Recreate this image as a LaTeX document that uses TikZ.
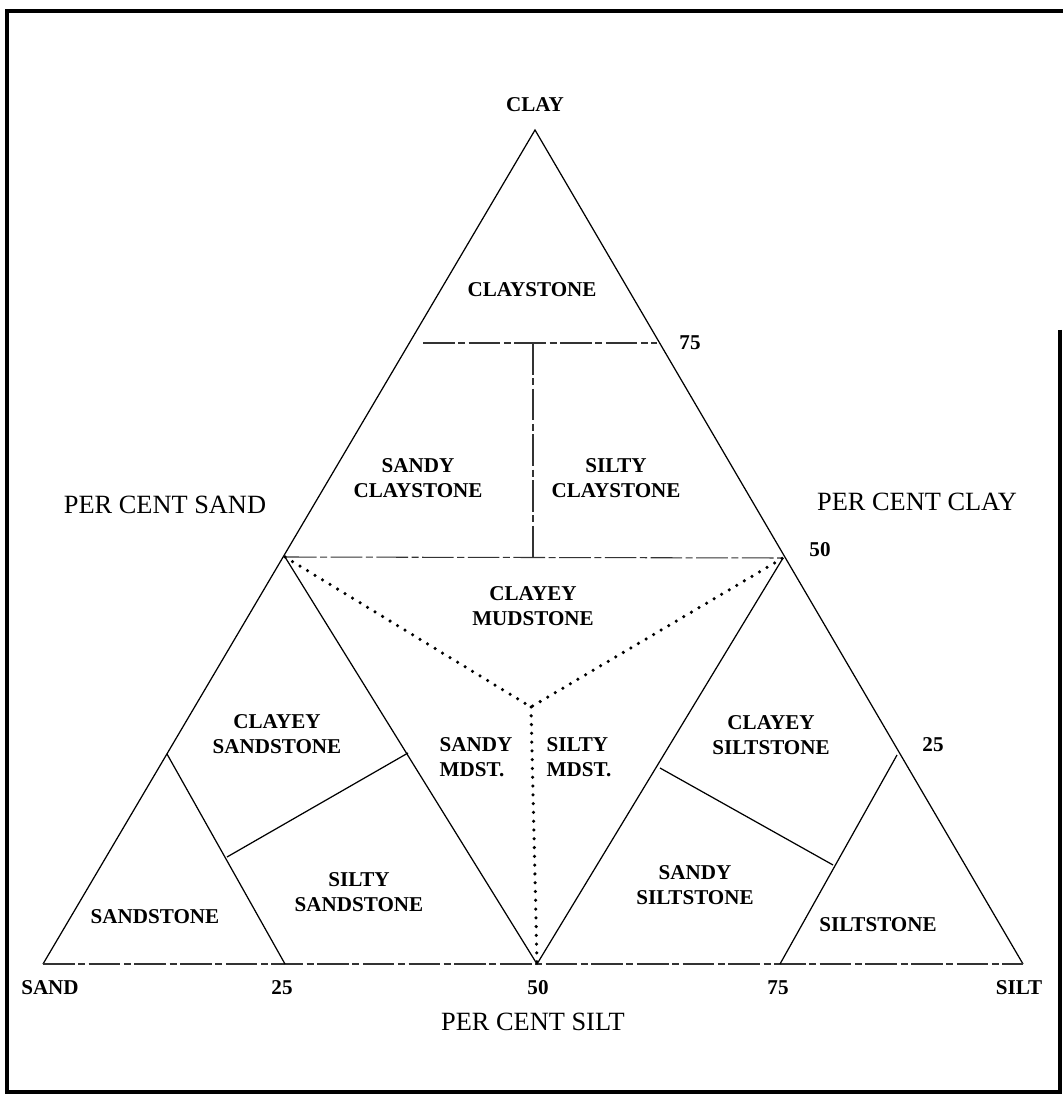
\documentclass[tikz,border=0pt]{standalone}
\usepackage{fontspec}
\setmainfont{Liberation Serif}
\usepackage{tikz}
\usetikzlibrary{calc}

\begin{document}
\begin{tikzpicture}[
    x=0.1mm, y=-0.1mm,
    field/.style={align=center, inner sep=0pt, font=\fontsize{6}{7.1}\selectfont\bfseries},
    corner/.style={inner sep=0pt, font=\fontsize{6}{7.1}\selectfont\bfseries},
    axislabel/.style={inner sep=0pt, font=\fontsize{7.5}{9}\selectfont},
    edge/.style={line width=0.35pt},
    split/.style={line width=0.3pt, draw=black!80, dash pattern=on 9pt off 1pt on 2pt off 1pt},
    mud/.style={line width=1pt, line cap=round, dash pattern=on 0pt off 2.5pt},
    frame/.style={line width=0.9pt}
  ]
    \useasboundingbox (0,0) rectangle (1063,1094);
    \draw[frame] (1060,330) -- (1060,1092) -- (7,1092) -- (7,11) -- (1063,11);
    % corners of the triangle and the class boundaries
    \coordinate (sand) at (43,964);
    \coordinate (silt) at (1023,964);
    \coordinate (clay) at (535,130);
    \coordinate (c75l) at (423,343);
    \coordinate (c75r) at (657,343);
    \coordinate (c75m) at (533,343);
    \coordinate (c50m) at (533,557);
    \coordinate (c50l) at (285,557);
    \coordinate (c50r) at (783,558);
    \coordinate (core) at (531,707);
    \coordinate (s25) at (285,964);
    \coordinate (s50) at (537,964);
    \coordinate (s75) at (780,964);
    \coordinate (l25) at (167,754);
    \coordinate (r25) at (897,755);
    \coordinate (lcut) at (227,857);
    \coordinate (lmid) at (408,753);
    \coordinate (rmid) at (660,768);
    \coordinate (rcut) at (833,865);
    \draw[edge] (sand) -- (clay) -- (silt);
    \draw[split] (sand) -- (silt);
    \draw[split] (c75l) -- (c75r);
    \draw[split] (c75m) -- (c50m);
    \draw[split] (c50l) -- (c50r);
    \draw[edge] (c50l) -- (s50) -- (c50r);
    \draw[edge] (l25) -- (s25);
    \draw[edge] (r25) -- (s75);
    \draw[edge] (lcut) -- (lmid);
    \draw[edge] (rmid) -- (rcut);
    \draw[mud] (c50l) -- (core) -- (c50r);
    \draw[mud] (core) -- (s50);
    % class names
    \node[field] (claystone) at (532,290) {CLAYSTONE};
    \node[field] (sdclay) at (418,478) {SANDY\\CLAYSTONE};
    \node[field] (slclay) at (616,478) {SILTY\\CLAYSTONE};
    \node[field] (clmud) at (533,606) {CLAYEY\\MUDSTONE};
    \node[field] (clsand) at (277,734) {CLAYEY\\SANDSTONE};
    \node[field, align=left] (sdmud) at (476,757) {SANDY\\MDST.};
    \node[field, align=left] (slmud) at (579,757) {SILTY\\MDST.};
    \node[field] (clsilt) at (771,735) {CLAYEY\\SILTSTONE};
    \node[field] (sandstone) at (155,917) {SANDSTONE};
    \node[field] (slsand) at (359,892) {SILTY\\SANDSTONE};
    \node[field] (sdsilt) at (695,885) {SANDY\\SILTSTONE};
    \node[field] (siltstone) at (878,925) {SILTSTONE};
    % corners and scales
    \node[corner] (lclay) at (535,105) {CLAY};
    \node[corner] (r75) at (690,343) {75};
    \node[corner] (r50) at (820,550) {50};
    \node[corner] (r25) at (933,745) {25};
    \foreach \x/\t/\n in {50/SAND/lsand, 282/25/b25, 538/50/b50, 778/75/b75, 1019/SILT/lsilt}
      \node[corner] (\n) at (\x,988) {\t};
    \node[axislabel] (psand) at (165,505) {PER CENT SAND};
    \node[axislabel] (pclay) at (917,502) {PER CENT CLAY};
    \node[axislabel] (psilt) at (533,1022) {PER CENT SILT};
\end{tikzpicture}
\end{document}
